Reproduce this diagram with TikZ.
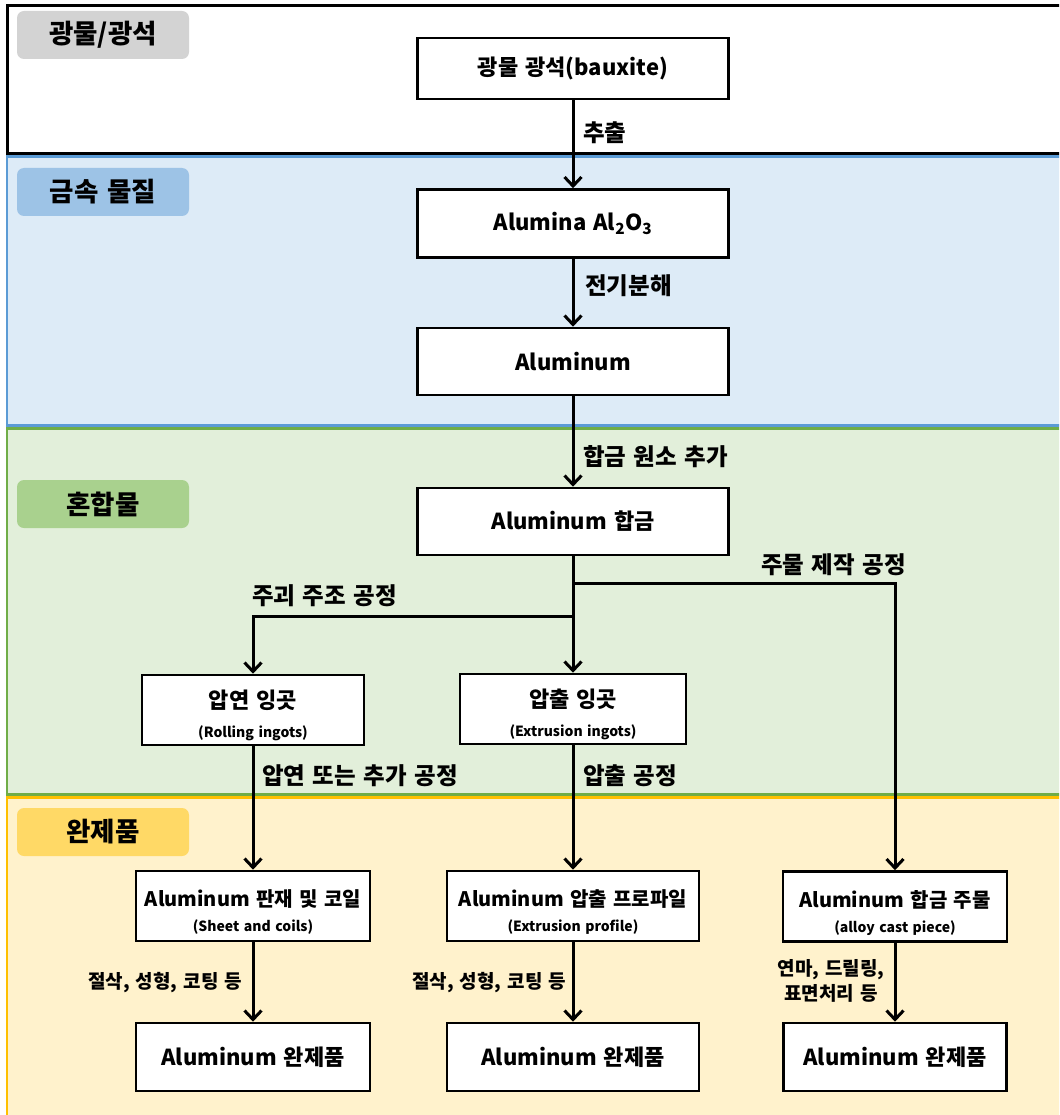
\documentclass[tikz,border=0pt]{standalone}
\usepackage{fontspec}
\setmainfont{Noto Sans CJK KR}[WordSpace=1.4]
\usetikzlibrary{arrows.meta}
\definecolor{bandblue}{HTML}{DDEBF7}
\definecolor{lineblue}{HTML}{5B9BD5}
\definecolor{tagblue}{HTML}{9DC3E6}
\definecolor{bandgreen}{HTML}{E2EFDA}
\definecolor{linegreen}{HTML}{70AD47}
\definecolor{taggreen}{HTML}{A9D18E}
\definecolor{bandyellow}{HTML}{FFF2CC}
\definecolor{lineyellow}{HTML}{FFC000}
\definecolor{tagyellow}{HTML}{FFD966}
\definecolor{taggray}{HTML}{D3D3D3}
\begin{document}
\begin{tikzpicture}[x=1pt,y=-1pt,
  box/.style={draw=black, line width=2.6pt, fill=white, inner sep=0pt, align=center,
    font=\fontsize{22}{28}\selectfont\bfseries},
  ingot/.style={box, text height=55pt, text depth=0pt},
  prod/.style={box, text height=51pt, text depth=0pt, font=\fontsize{20}{28}\selectfont\bfseries},
  tag/.style={rounded corners=7pt, inner sep=0pt, minimum width=172pt, minimum height=48pt,
    font=\fontsize{26.5}{30}\selectfont\bfseries},
  conn/.style={line width=3pt, -{Straight Barb[length=9pt,width=17pt]}},
  lbl/.style={anchor=west, inner sep=0pt, font=\fontsize{23.5}{26}\selectfont\bfseries},
  slbl/.style={inner sep=0pt, align=center, font=\fontsize{19}{25}\selectfont\bfseries}]
\clip (0,0) rectangle (1059,1115);
\fill[white] (0,0) rectangle (1059,1115);
% bands
\draw[line width=2.5pt, draw=lineyellow, fill=bandyellow] (7,797.5) rectangle (1070,1130);
\draw[line width=2.5pt, draw=linegreen, fill=bandgreen] (7,428.5) rectangle (1070,794.5);
\draw[line width=2.5pt, draw=lineblue, fill=bandblue] (7,156.5) rectangle (1070,425.5);
\draw[line width=3pt, draw=black, fill=white] (7.5,5.5) rectangle (1070,153.5);
% tags
\node[tag, fill=taggray] (t1) at (103,35) {광물/광석};
\node[tag, fill=tagblue] (t2) at (103,192) {금속 물질};
\node[tag, fill=taggreen] (t3) at (103,504) {혼합물};
\node[tag, fill=tagyellow] (t4) at (103,832) {완제품};
% boxes
\node[box, minimum width=311pt, minimum height=61pt] (n1) at (573,68.5) {광물 광석(bauxite)};
\node[box, minimum width=311pt, minimum height=68pt] (n2) at (573,223.5) {Alumina Al\textsubscript{2}O\textsubscript{3}};
\node[box, minimum width=311pt, minimum height=67pt] (n3) at (573,361.5) {Aluminum};
\node[box, minimum width=311pt, minimum height=67pt] (n4) at (573,521.5) {Aluminum 합금};
\node[ingot, minimum width=222pt, minimum height=70pt] (n5) at (253,710) {압연 잉곳\\[1pt]{\fontsize{14}{18}\selectfont (Rolling ingots)}};
\node[ingot, minimum width=226pt, minimum height=70pt] (n6) at (573,709) {압출 잉곳\\[1pt]{\fontsize{14}{18}\selectfont (Extrusion ingots)}};
\node[prod, minimum width=234pt, minimum height=70pt] (n7) at (253,906) {Aluminum 판재 및 코일\\[-3pt]{\fontsize{14}{18}\selectfont (Sheet and coils)}};
\node[prod, minimum width=252pt, minimum height=70pt] (n8) at (573,906) {Aluminum 압출 프로파일\\[-3pt]{\fontsize{14}{18}\selectfont (Extrusion profile)}};
\node[prod, minimum width=224pt, minimum height=70pt] (n9) at (895,906.5) {Aluminum 합금 주물\\[-3pt]{\fontsize{14}{18}\selectfont (alloy cast piece)}};
\node[box, minimum width=234pt, minimum height=68pt] (n10) at (253,1057) {Aluminum 완제품};
\node[box, minimum width=252pt, minimum height=68pt] (n11) at (573,1057) {Aluminum 완제품};
\node[box, minimum width=223pt, minimum height=68pt] (n12) at (895,1057) {Aluminum 완제품};
% junctions
\coordinate (jr) at (573,583);
\coordinate (jl) at (573,616);
% connectors
\draw[conn] (n1) -- (n2);
\draw[conn] (n2) -- (n3);
\draw[conn] (n3) -- (n4);
\draw[conn] (n4) -- (n6);
\draw[conn] (jr) -| (n9.north);
\draw[conn] (jl) -| (n5.north);
\draw[conn] (n5) -- (n7);
\draw[conn] (n6) -- (n8);
\draw[conn] (n7) -- (n10);
\draw[conn] (n8) -- (n11);
\draw[conn] (n9) -- (n12);
% connector labels
\node[lbl] (l1) at (583,133) {추출};
\node[lbl] (l2) at (585,286) {전기분해};
\node[lbl] (l3) at (583,457) {합금 원소 추가};
\node[lbl] (l4) at (761,565) {주물 제작 공정};
\node[lbl] (l5) at (252,596) {주괴 주조 공정};
\node[lbl] (l6) at (262,776) {압연 또는 추가 공정};
\node[lbl] (l7) at (583,776) {압출 공정};
\node[slbl, anchor=west] (l8) at (88,983) {절삭, 성형, 코팅 등};
\node[slbl, anchor=west] (l9) at (412,983) {절삭, 성형, 코팅 등};
\node[slbl] (l10) at (831,980.5) {연마, 드릴링,\\표면처리 등};
\end{tikzpicture}
\end{document}
